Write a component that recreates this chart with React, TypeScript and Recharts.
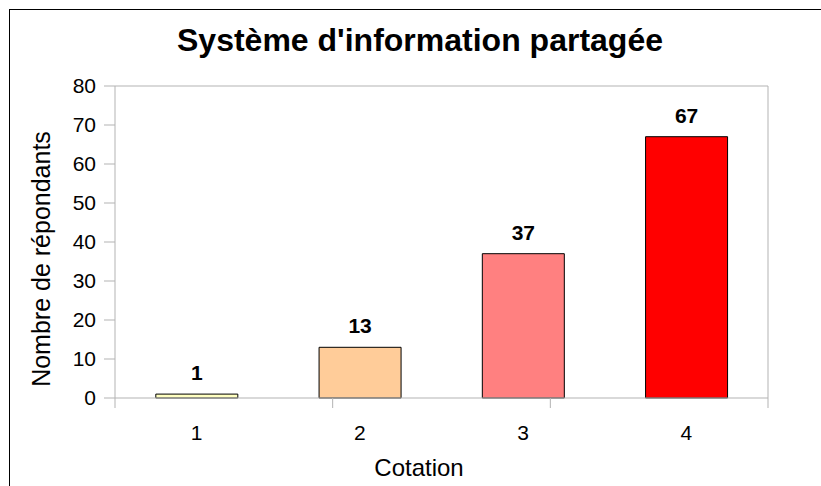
import { BarChart, Bar, XAxis, YAxis, Cell, LabelList } from "recharts";

const categories = ["1", "2", "3", "4"];
const respondents = [1, 13, 37, 67];
const barColors = ["#ffffc0", "#ffcc99", "#ff8080", "#ff0000"];
const yTicks = [0, 10, 20, 30, 40, 50, 60, 70, 80];
const edgeTicks = [0, 1, 2, 3, 4];

const data = categories.map((c, i) => ({ cotation: c, value: respondents[i] }));

const axisGray = "#b3b3b3";
const font = "'Liberation Sans', Arial, sans-serif";

export default function App() {
  return (
    <div
      style={{
        position: "absolute",
        left: 0,
        top: 0,
        width: 821,
        height: 486,
        overflow: "hidden",
        background: "#fff",
        fontFamily: font,
      }}
    >
      {/* outer frame, only left and top edges are visible */}
      <div
        style={{
          position: "absolute",
          left: 9,
          top: 9,
          width: 900,
          height: 600,
          border: "1px solid #000",
        }}
      />
      <div
        style={{
          position: "absolute",
          left: 0,
          width: 840,
          top: 24,
          textAlign: "center",
          fontSize: 32,
          lineHeight: "32px",
          fontWeight: "bold",
          color: "#000",
        }}
      >
        Système d'information partagée
      </div>
      <div style={{ position: "absolute", left: 0, top: 0 }}>
        <BarChart
          width={821}
          height={486}
          data={data}
          margin={{ top: 85, right: 52, bottom: 0, left: 0 }}
          barCategoryGap="25%"
        >
          {/* bottom axis line with ticks between categories */}
          <XAxis
            xAxisId="a_edge"
            type="number"
            domain={[0, 4]}
            ticks={edgeTicks}
            height={1}
            tick={() => <g />}
            tickSize={10}
            stroke={axisGray}
            allowDataOverflow
          />
          <XAxis
            xAxisId="b_cat"
            dataKey="cotation"
            height={87}
            axisLine={false}
            tickLine={false}
            tickSize={0}
            tickMargin={26}
            interval={0}
            tick={{ fill: "#000", fontSize: 21, fontFamily: font }}
          />
          {/* top edge of the plot frame */}
          <XAxis
            xAxisId="top"
            orientation="top"
            type="number"
            domain={[0, 4]}
            height={1}
            tick={false}
            tickLine={false}
            stroke={axisGray}
            allowDataOverflow
          />
          <YAxis
            yAxisId="left"
            width={115}
            domain={[0, 80]}
            ticks={yTicks}
            interval={0}
            tickSize={11}
            tickMargin={8}
            stroke={axisGray}
            tick={{ fill: "#000", fontSize: 21, fontFamily: font }}
          />
          {/* right edge of the plot frame */}
          <YAxis
            yAxisId="right"
            orientation="right"
            width={1}
            domain={[0, 80]}
            tick={false}
            tickLine={false}
            stroke={axisGray}
          />
          <Bar
            xAxisId="b_cat"
            yAxisId="left"
            dataKey="value"
            stroke="#000"
            strokeWidth={1}
            isAnimationActive={false}
          >
            {data.map((d, i) => (
              <Cell key={d.cotation} fill={barColors[i]} />
            ))}
            <LabelList
              dataKey="value"
              position="top"
              offset={14}
              fill="#000"
              fontSize={21}
              fontWeight="bold"
              fontFamily={font}
            />
          </Bar>
        </BarChart>
      </div>
      <div
        style={{
          position: "absolute",
          left: 41,
          top: 259,
          transform: "translate(-50%, -50%) rotate(-90deg)",
          whiteSpace: "nowrap",
          fontSize: 25,
          color: "#000",
        }}
      >
        Nombre de répondants
      </div>
      <div
        style={{
          position: "absolute",
          left: 419,
          top: 468,
          transform: "translate(-50%, -50%)",
          whiteSpace: "nowrap",
          fontSize: 24,
          color: "#000",
        }}
      >
        Cotation
      </div>
    </div>
  );
}
